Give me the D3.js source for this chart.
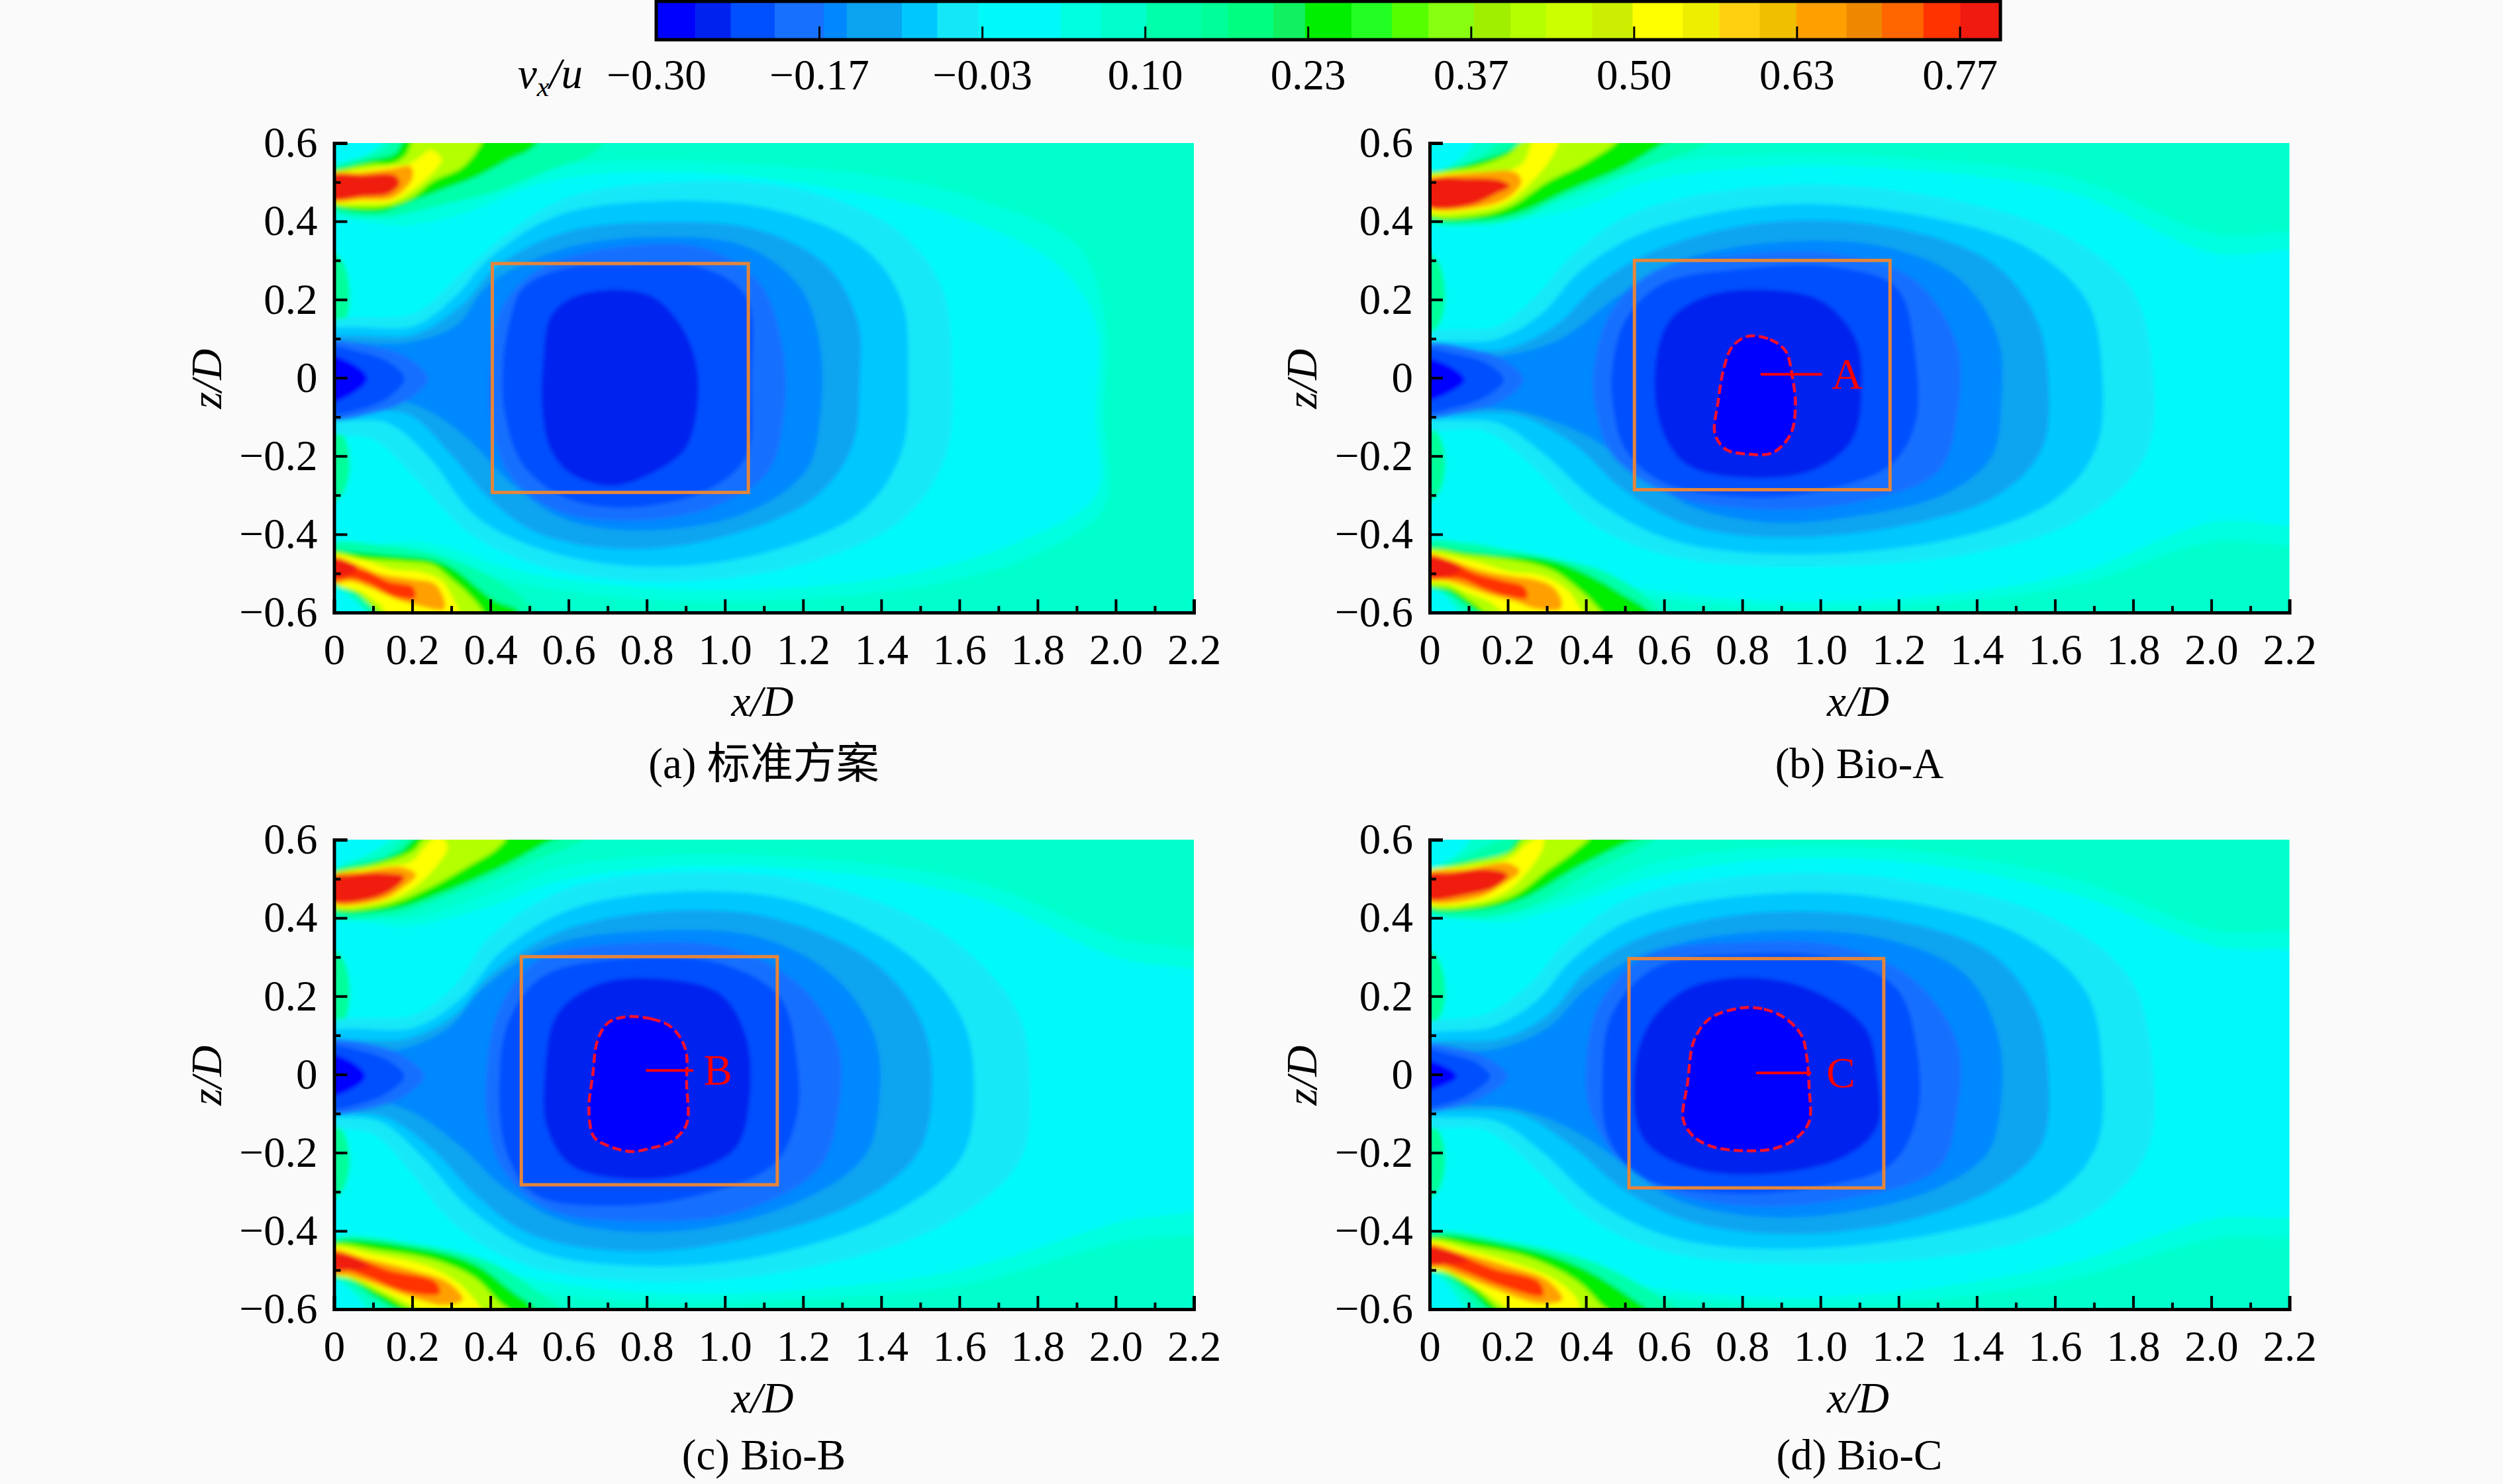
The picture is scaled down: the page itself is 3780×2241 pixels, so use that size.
<!DOCTYPE html>
<html>
<head>
<meta charset="utf-8">
<script src="https://cdn.jsdelivr.net/npm/d3@7"></script>
<style>
  html, body { margin: 0; padding: 0; background: #fafafa; }
  text { font-family: "Liberation Serif", "Noto Sans CJK SC", serif; font-size: 65px; fill: #000; }
</style>
</head>
<body>
<svg id="chart" width="3780" height="2241"></svg>
<script>
// colour bar
var barEdges = [-0.268, -0.239, -0.203, -0.163, -0.144, -0.099, -0.07, -0.036, 0.031, 0.064, 0.101, 0.146, 0.168, 0.205, 0.231, 0.269,
  0.302, 0.332, 0.369, 0.399, 0.428, 0.466, 0.499, 0.54, 0.57, 0.603, 0.633, 0.674, 0.703, 0.737, 0.767];
var barColors = ["#0000ff", "#0022ee", "#0050ff", "#1870ff", "#0088ff", "#0aa4f0", "#00c8ff", "#14e8f8", "#00fafa", "#00ffe0", "#00ffcc", "#00ffaa",
  "#00ff99", "#00ff80", "#10f060", "#00ee00", "#22ff22", "#55ff00", "#88ff10", "#a0ee00", "#b4ff00", "#ccff00", "#ccee00", "#ffff00", "#eeee00",
  "#ffd010", "#f0c000", "#ffa000", "#ee8800", "#ff6600", "#ff3300", "#f01a10"];
var barTicks = [-0.30, -0.1667, -0.0333, 0.10, 0.2333, 0.3667, 0.50, 0.6333, 0.7667];

var xTicks = [0, 0.2, 0.4, 0.6, 0.8, 1.0, 1.2, 1.4, 1.6, 1.8, 2.0, 2.2];
var xMinor = [0.1, 0.3, 0.5, 0.7, 0.9, 1.1, 1.3, 1.5, 1.7, 1.9, 2.1];
var zTicks = [-0.6, -0.4, -0.2, 0, 0.2, 0.4, 0.6];
var zMinor = [-0.5, -0.3, -0.1, 0.1, 0.3, 0.5];

var captions = ["(a) 标准方案", "(b) Bio-A", "(c) Bio-B", "(d) Bio-C"];

// duct box per panel: x0, x1, z0, z1
var boxA = [0.405, 1.06, -0.293, 0.292];
var boxB = [0.524, 1.178, -0.286, 0.30];
var boxC = [0.479, 1.134, -0.282, 0.301];
var boxD = [0.51, 1.162, -0.29, 0.296];

// dashed low velocity outlines
var coreB = [[0.814, 0.106], [0.871, 0.098], [0.911, 0.068], [0.928, 0.003], [0.936, -0.072], [0.924, -0.143], [0.879, -0.191], [0.814, -0.195], [0.758, -0.183], [0.73, -0.143], [0.738, -0.062], [0.753, 0.025], [0.774, 0.079]];
var coreC = [[0.743, 0.147], [0.812, 0.142], [0.864, 0.12], [0.899, 0.065], [0.902, -0.023], [0.902, -0.127], [0.864, -0.171], [0.812, -0.188], [0.76, -0.197], [0.70, -0.182], [0.665, -0.16], [0.652, -0.089], [0.662, -0.001], [0.674, 0.087], [0.70, 0.131]];
var coreD = [[0.798, 0.17], [0.855, 0.167], [0.911, 0.143], [0.952, 0.099], [0.965, 0.044], [0.971, -0.033], [0.971, -0.121], [0.936, -0.165], [0.879, -0.19], [0.806, -0.195], [0.725, -0.185], [0.677, -0.16], [0.649, -0.116], [0.66, -0.022], [0.677, 0.088], [0.717, 0.143]];

// leader: x0, x1, z, then the letter and its x
var leaderB = [0.847, 1.004, 0.009, "A", 1.068];
var leaderC = [0.798, 0.919, 0.01, "B", 0.982];
var leaderD = [0.835, 0.976, 0.004, "C", 1.052];

// filled contours as [level, outline in x/D, z/D], painted in this order
var fieldA = [
  [0.05, [[-0.05, 0.41], [0.2, 0.42], [0.36, 0.47], [0.52, 0.53], [0.74, 0.555], [1.0, 0.55], [1.36, 0.52], [1.6, 0.47], [1.9, 0.34], [1.97, 0.16], [1.97, -0.1], [1.97, -0.33], [1.8, -0.45], [1.55, -0.525], [1.2, -0.565], [0.85, -0.57], [0.5, -0.53], [0.23, -0.46], [-0.05, -0.44]]],
  [0, [[-0.05, 0.38], [0.2, 0.39], [0.36, 0.43], [0.52, 0.495], [0.74, 0.525], [1.0, 0.52], [1.3, 0.48], [1.6, 0.41], [1.85, 0.29], [1.95, 0.14], [1.95, -0.1], [1.95, -0.3], [1.75, -0.42], [1.5, -0.495], [1.2, -0.535], [0.85, -0.54], [0.5, -0.5], [0.23, -0.42], [-0.05, -0.41]]],
  [0.02, [[-0.02, 0.62], [0.13, 0.62], [0.1, 0.58], [0.04, 0.55], [-0.02, 0.53]]],
  [0.02, [[-0.02, -0.53], [0.04, -0.56], [0.09, -0.62], [-0.02, -0.62]]],
  [0.15, [[-0.03, 0.33], [0.02, 0.3], [0.04, 0.2], [0.02, 0.13], [-0.03, 0.11]]],
  [0.15, [[-0.03, -0.11], [0.02, -0.14], [0.04, -0.22], [0.02, -0.3], [-0.03, -0.33]]],
  [-0.05, [[-0.035, 0.128], [0.207, 0.165], [0.311, 0.252], [0.432, 0.36], [0.588, 0.457], [0.864, 0.5], [1.175, 0.484], [1.434, 0.382], [1.555, 0.23], [1.581, 0.014], [1.564, -0.202], [1.452, -0.364], [1.175, -0.483], [0.83, -0.521], [0.536, -0.483], [0.346, -0.397], [0.207, -0.256], [0.104, -0.159], [-0.035, -0.126]]],
  [-0.085, [[-0.035, 0.111], [0.207, 0.133], [0.311, 0.209], [0.398, 0.306], [0.57, 0.414], [0.83, 0.452], [1.123, 0.43], [1.348, 0.338], [1.452, 0.198], [1.469, 0.014], [1.452, -0.191], [1.348, -0.343], [1.089, -0.451], [0.795, -0.483], [0.536, -0.44], [0.363, -0.354], [0.242, -0.202], [0.138, -0.116], [-0.035, -0.094]]],
  [-0.12, [[-0.035, 0.09], [0.207, 0.111], [0.328, 0.187], [0.415, 0.284], [0.588, 0.371], [0.83, 0.398], [1.089, 0.377], [1.262, 0.285], [1.34, 0.144], [1.345, -0.006], [1.325, -0.178], [1.227, -0.308], [1.002, -0.405], [0.744, -0.438], [0.519, -0.396], [0.398, -0.31], [0.294, -0.191], [0.19, -0.094], [-0.035, -0.072]]],
  [-0.15, [[-0.035, 0.074], [0.19, 0.09], [0.311, 0.133], [0.398, 0.24], [0.588, 0.33], [0.83, 0.36], [1.054, 0.335], [1.193, 0.23], [1.244, 0.079], [1.244, -0.094], [1.21, -0.234], [1.054, -0.345], [0.795, -0.39], [0.588, -0.36], [0.45, -0.267], [0.346, -0.159], [0.242, -0.084], [0.138, -0.051], [-0.035, -0.051]]],
  [-0.18, [[0.40, 0.03], [0.43, 0.18], [0.53, 0.28], [0.74, 0.335], [0.95, 0.33], [1.09, 0.24], [1.15, 0.06], [1.15, -0.1], [1.11, -0.24], [0.97, -0.33], [0.74, -0.365], [0.56, -0.335], [0.45, -0.25], [0.40, -0.1]]],
  [-0.22, [[0.449, 0.144], [0.484, 0.23], [0.588, 0.279], [0.744, 0.29], [0.933, 0.284], [1.054, 0.209], [1.068, -0.008], [1.054, -0.202], [0.951, -0.289], [0.744, -0.332], [0.588, -0.305], [0.484, -0.224], [0.437, -0.094], [0.432, 0.036]]],
  [-0.25, [[0.553, 0.155], [0.605, 0.203], [0.709, 0.225], [0.812, 0.209], [0.881, 0.144], [0.925, 0.046], [0.93, -0.072], [0.899, -0.181], [0.812, -0.245], [0.709, -0.276], [0.605, -0.245], [0.553, -0.181], [0.532, -0.072], [0.536, 0.057]]],
  [-0.18, [[-0.035, 0.085], [0.1, 0.08], [0.19, 0.05], [0.24, -0.002], [0.19, -0.055], [0.1, -0.09], [-0.035, -0.1]]],
  [-0.22, [[-0.035, 0.075], [0.07, 0.065], [0.14, 0.04], [0.18, -0.002], [0.14, -0.05], [0.07, -0.08], [-0.035, -0.09]]],
  [-0.29, [[-0.035, 0.055], [0.04, 0.04], [0.085, -0.002], [0.04, -0.045], [-0.035, -0.065]]],
  // top jet
  [0.12, [[-0.01, 0.435], [0.128, 0.41], [0.241, 0.435], [0.411, 0.475], [0.552, 0.531], [0.665, 0.576], [0.69, 0.61], [0.156, 0.61], [0.128, 0.582], [0.055, 0.559], [-0.01, 0.531]]],
  [0.25, [[-0.01, 0.446], [0.043, 0.427], [0.123, 0.424], [0.185, 0.446], [0.275, 0.48], [0.354, 0.509], [0.41, 0.537], [0.45, 0.559], [0.5, 0.582], [0.524, 0.61], [0.185, 0.61], [0.156, 0.573], [0.094, 0.557], [0.041, 0.542], [-0.01, 0.523]]],
  [0.41, [[-0.01, 0.452], [0.072, 0.435], [0.145, 0.441], [0.202, 0.463], [0.253, 0.503], [0.326, 0.537], [0.366, 0.582], [0.377, 0.61], [0.207, 0.61], [0.185, 0.571], [0.151, 0.548], [0.094, 0.545], [0.038, 0.534], [-0.01, 0.517]]],
  [0.52, [[-0.01, 0.451], [0.072, 0.446], [0.145, 0.449], [0.185, 0.469], [0.23, 0.503], [0.264, 0.537], [0.275, 0.559], [0.247, 0.582], [0.213, 0.559], [0.185, 0.545], [0.151, 0.542], [0.094, 0.534], [0.032, 0.528], [-0.01, 0.521]]],
  [0.65, [[-0.01, 0.455], [0.072, 0.455], [0.145, 0.458], [0.179, 0.48], [0.202, 0.514], [0.196, 0.54], [0.145, 0.534], [0.072, 0.525], [-0.01, 0.518]]],
  [0.78, [[-0.01, 0.458], [0.072, 0.463], [0.14, 0.47], [0.168, 0.497], [0.156, 0.517], [0.072, 0.518], [-0.01, 0.515]]],
  // bottom jet
  [0.12, [[-0.01, -0.428], [0.128, -0.428], [0.258, -0.45], [0.366, -0.49], [0.445, -0.535], [0.501, -0.58], [0.524, -0.61], [0.11, -0.61], [0.08, -0.59], [0.043, -0.55], [-0.01, -0.52]]],
  [0.25, [[-0.01, -0.445], [0.043, -0.445], [0.14, -0.453], [0.253, -0.465], [0.309, -0.49], [0.366, -0.535], [0.411, -0.569], [0.467, -0.592], [0.473, -0.61], [0.117, -0.61], [0.089, -0.58], [0.055, -0.552], [0.007, -0.532], [-0.01, -0.525]]],
  [0.41, [[-0.01, -0.45], [0.072, -0.462], [0.185, -0.47], [0.253, -0.479], [0.298, -0.513], [0.343, -0.552], [0.377, -0.592], [0.382, -0.61], [0.134, -0.61], [0.094, -0.58], [0.055, -0.546], [0.007, -0.527]]],
  [0.52, [[-0.01, -0.456], [0.077, -0.467], [0.151, -0.49], [0.219, -0.496], [0.275, -0.518], [0.298, -0.552], [0.32, -0.597], [0.323, -0.61], [0.145, -0.61], [0.117, -0.58], [0.072, -0.549], [0.007, -0.524]]],
  [0.65, [[-0.01, -0.459], [0.055, -0.476], [0.117, -0.501], [0.202, -0.515], [0.258, -0.527], [0.284, -0.575], [0.281, -0.592], [0.207, -0.58], [0.151, -0.563], [0.094, -0.538], [0.043, -0.521], [-0.01, -0.524]]],
  [0.75, [[-0.01, -0.462], [0.043, -0.481], [0.089, -0.496], [0.14, -0.521], [0.202, -0.535], [0.207, -0.563], [0.151, -0.558], [0.094, -0.529], [0.043, -0.513], [-0.01, -0.518]]],
  [0.78, [[-0.01, -0.462], [0.038, -0.47], [0.06, -0.485], [0.043, -0.501], [-0.01, -0.51]]]
];

var fieldB = [
  [0.05, [[-0.05, 0.41], [0.2, 0.42], [0.4, 0.47], [0.55, 0.54], [0.87, 0.57], [1.25, 0.56], [1.65, 0.51], [2.0, 0.37], [2.3, 0.34], [2.3, -0.4], [2.0, -0.42], [1.65, -0.53], [1.25, -0.58], [0.87, -0.59], [0.5, -0.55], [0.25, -0.48], [-0.05, -0.44]]],
  [0, [[-0.05, 0.39], [0.2, 0.4], [0.4, 0.44], [0.55, 0.5], [0.87, 0.54], [1.25, 0.53], [1.65, 0.47], [2.0, 0.32], [2.3, 0.3], [2.3, -0.35], [2.0, -0.37], [1.65, -0.5], [1.25, -0.56], [0.87, -0.57], [0.5, -0.53], [0.25, -0.46], [-0.05, -0.42]]],
  [0.02, [[-0.02, 0.62], [0.12, 0.62], [0.09, 0.57], [0.03, 0.53], [-0.02, 0.51]]],
  [0.02, [[-0.02, -0.53], [0.03, -0.55], [0.08, -0.62], [-0.02, -0.62]]],
  [0.15, [[-0.03, 0.33], [0.02, 0.3], [0.04, 0.2], [0.02, 0.13], [-0.03, 0.1]]],
  [0.15, [[-0.03, -0.11], [0.02, -0.14], [0.04, -0.22], [0.02, -0.3], [-0.03, -0.33]]],
  [-0.05, [[-0.036, 0.1], [0.175, 0.133], [0.272, 0.209], [0.369, 0.317], [0.531, 0.425], [0.871, 0.49], [1.227, 0.474], [1.6, 0.376], [1.794, 0.23], [1.851, 0.014], [1.835, -0.191], [1.697, -0.342], [1.438, -0.439], [0.952, -0.483], [0.596, -0.451], [0.402, -0.365], [0.272, -0.235], [0.143, -0.137], [-0.036, -0.121]]],
  [-0.085, [[-0.036, 0.073], [0.175, 0.1], [0.288, 0.165], [0.385, 0.273], [0.547, 0.371], [0.871, 0.441], [1.195, 0.425], [1.519, 0.338], [1.681, 0.198], [1.721, 0.014], [1.705, -0.181], [1.6, -0.311], [1.354, -0.408], [0.952, -0.451], [0.629, -0.418], [0.434, -0.321], [0.288, -0.191], [0.175, -0.116], [-0.036, -0.089]]],
  [-0.12, [[-0.036, 0.06], [0.191, 0.073], [0.321, 0.133], [0.434, 0.241], [0.58, 0.327], [0.871, 0.398], [1.195, 0.382], [1.438, 0.295], [1.551, 0.155], [1.583, -0.008], [1.567, -0.181], [1.454, -0.3], [1.227, -0.375], [0.903, -0.408], [0.661, -0.376], [0.499, -0.289], [0.369, -0.17], [0.224, -0.095], [-0.036, -0.078]]],
  [-0.15, [[-0.036, 0.05], [0.191, 0.057], [0.336, 0.1], [0.466, 0.197], [0.612, 0.29], [0.871, 0.345], [1.162, 0.335], [1.357, 0.252], [1.454, 0.101], [1.462, -0.072], [1.438, -0.202], [1.324, -0.295], [1.114, -0.35], [0.871, -0.37], [0.661, -0.325], [0.547, -0.245], [0.402, -0.148], [0.224, -0.084], [-0.036, -0.065]]],
  [-0.18, [[0.42, 0.02], [0.46, 0.16], [0.57, 0.27], [0.8, 0.315], [1.05, 0.315], [1.24, 0.25], [1.35, 0.08], [1.35, -0.09], [1.3, -0.24], [1.08, -0.32], [0.83, -0.335], [0.62, -0.3], [0.47, -0.2], [0.425, -0.08]]],
  [-0.22, [[0.466, 0.014], [0.499, 0.144], [0.596, 0.241], [0.806, 0.279], [1.033, 0.284], [1.195, 0.23], [1.243, 0.057], [1.243, -0.116], [1.179, -0.224], [1.0, -0.289], [0.806, -0.305], [0.596, -0.267], [0.499, -0.181], [0.469, -0.072]]],
  [-0.25, [[0.576, 0.014], [0.612, 0.144], [0.709, 0.209], [0.855, 0.225], [1.0, 0.198], [1.09, 0.1], [1.106, -0.029], [1.081, -0.159], [0.984, -0.235], [0.822, -0.256], [0.661, -0.224], [0.596, -0.137]]],
  [-0.18, [[-0.035, 0.08], [0.1, 0.075], [0.19, 0.045], [0.24, -0.005], [0.19, -0.055], [0.1, -0.085], [-0.035, -0.095]]],
  [-0.22, [[-0.035, 0.07], [0.07, 0.06], [0.15, 0.035], [0.19, -0.005], [0.15, -0.045], [0.07, -0.075], [-0.035, -0.085]]],
  [-0.29, [[-0.035, 0.05], [0.04, 0.035], [0.09, -0.005], [0.045, -0.04], [-0.035, -0.06]]],
  [0.12, [[-0.01, 0.405], [0.126, 0.39], [0.24, 0.41], [0.34, 0.46], [0.547, 0.535], [0.72, 0.61], [0.2, 0.61], [0.13, 0.565], [0.03, 0.52], [-0.01, 0.505]]],
  [0.25, [[-0.01, 0.415], [0.126, 0.403], [0.224, 0.42], [0.352, 0.477], [0.5, 0.54], [0.6, 0.6], [0.62, 0.61], [0.25, 0.61], [0.2, 0.58], [0.11, 0.55], [0.03, 0.53], [-0.01, 0.52]]],
  [0.41, [[-0.01, 0.42], [0.126, 0.415], [0.21, 0.44], [0.3, 0.5], [0.4, 0.55], [0.48, 0.61], [0.25, 0.61], [0.2, 0.57], [0.12, 0.54], [0.03, 0.525], [-0.01, 0.515]]],
  [0.52, [[-0.01, 0.43], [0.1, 0.425], [0.2, 0.45], [0.27, 0.51], [0.31, 0.56], [0.33, 0.61], [0.27, 0.61], [0.24, 0.55], [0.2, 0.53], [0.1, 0.525], [0.03, 0.52], [-0.01, 0.51]]],
  [0.65, [[-0.01, 0.437], [0.12, 0.435], [0.2, 0.46], [0.235, 0.5], [0.22, 0.525], [0.12, 0.525], [0.03, 0.515], [-0.01, 0.505]]],
  [0.78, [[-0.01, 0.44], [0.1, 0.44], [0.17, 0.47], [0.205, 0.49], [0.18, 0.505], [0.1, 0.51], [-0.01, 0.503]]],
  // bottom jet, from a close crop
  [0.12, [[-0.01, -0.422], [0.096, -0.422], [0.198, -0.439], [0.322, -0.462], [0.435, -0.49], [0.52, -0.535], [0.576, -0.58], [0.593, -0.61], [0.119, -0.61], [0.079, -0.58], [0.034, -0.546], [-0.01, -0.532]]],
  [0.25, [[-0.01, -0.44], [0.096, -0.445], [0.17, -0.453], [0.266, -0.459], [0.333, -0.473], [0.39, -0.496], [0.435, -0.518], [0.492, -0.552], [0.548, -0.586], [0.57, -0.61], [0.147, -0.61], [0.096, -0.58], [0.045, -0.546], [-0.01, -0.53]]],
  [0.41, [[-0.01, -0.444], [0.096, -0.453], [0.181, -0.462], [0.266, -0.476], [0.322, -0.496], [0.367, -0.529], [0.418, -0.575], [0.441, -0.61], [0.164, -0.61], [0.113, -0.577], [0.056, -0.54], [-0.01, -0.524]]],
  [0.52, [[-0.01, -0.448], [0.051, -0.456], [0.119, -0.47], [0.209, -0.496], [0.266, -0.501], [0.311, -0.515], [0.356, -0.546], [0.379, -0.58], [0.395, -0.61], [0.209, -0.61], [0.153, -0.572], [0.096, -0.549], [0.04, -0.524], [-0.01, -0.518]]],
  [0.65, [[-0.01, -0.452], [0.051, -0.465], [0.124, -0.49], [0.209, -0.507], [0.266, -0.515], [0.316, -0.535], [0.339, -0.575], [0.333, -0.592], [0.266, -0.589], [0.22, -0.572], [0.153, -0.555], [0.096, -0.535], [0.04, -0.518], [-0.01, -0.512]]],
  [0.75, [[-0.01, -0.456], [0.056, -0.47], [0.113, -0.498], [0.186, -0.518], [0.243, -0.535], [0.249, -0.563], [0.198, -0.558], [0.141, -0.541], [0.079, -0.515], [-0.01, -0.51]]],
  [0.78, [[-0.01, -0.459], [0.051, -0.467], [0.079, -0.49], [0.056, -0.504], [-0.01, -0.507]]]
];

var fieldC = [
  [0.05, [[-0.05, 0.39], [0.2, 0.4], [0.42, 0.47], [0.58, 0.53], [0.85, 0.56], [1.25, 0.55], [1.65, 0.49], [2.0, 0.35], [2.3, 0.27], [2.3, -0.36], [2.0, -0.43], [1.6, -0.54], [1.2, -0.575], [0.85, -0.585], [0.5, -0.55], [0.25, -0.47], [-0.05, -0.43]]],
  [0, [[-0.05, 0.37], [0.2, 0.38], [0.4, 0.43], [0.56, 0.49], [0.85, 0.53], [1.25, 0.52], [1.65, 0.45], [2.0, 0.3], [2.3, 0.22], [2.3, -0.3], [2.0, -0.38], [1.6, -0.5], [1.2, -0.55], [0.85, -0.56], [0.5, -0.52], [0.25, -0.44], [-0.05, -0.41]]],
  [0.02, [[-0.02, 0.62], [0.16, 0.62], [0.1, 0.57], [0.03, 0.54], [-0.02, 0.52]]],
  [0.02, [[-0.02, -0.52], [0.03, -0.54], [0.09, -0.62], [-0.02, -0.62]]],
  [0.15, [[-0.03, 0.33], [0.02, 0.3], [0.04, 0.2], [0.02, 0.13], [-0.03, 0.11]]],
  [0.15, [[-0.03, -0.11], [0.02, -0.14], [0.04, -0.22], [0.02, -0.3], [-0.03, -0.33]]],
  [-0.05, [[-0.035, 0.12], [0.207, 0.153], [0.311, 0.23], [0.398, 0.351], [0.588, 0.471], [0.864, 0.515], [1.21, 0.493], [1.556, 0.362], [1.746, 0.164], [1.78, -0.023], [1.754, -0.221], [1.556, -0.386], [1.175, -0.501], [0.795, -0.529], [0.484, -0.485], [0.311, -0.386], [0.19, -0.243], [0.104, -0.155], [-0.035, -0.116]]],
  [-0.085, [[-0.035, 0.098], [0.207, 0.12], [0.328, 0.197], [0.432, 0.318], [0.605, 0.422], [0.864, 0.466], [1.175, 0.444], [1.469, 0.307], [1.607, 0.142], [1.638, -0.023], [1.607, -0.21], [1.434, -0.353], [1.106, -0.463], [0.795, -0.49], [0.519, -0.452], [0.346, -0.342], [0.225, -0.21], [0.121, -0.122], [-0.035, -0.089]]],
  [-0.12, [[-0.035, 0.07], [0.19, 0.092], [0.311, 0.153], [0.398, 0.252], [0.57, 0.362], [0.83, 0.416], [1.123, 0.4], [1.383, 0.285], [1.504, 0.131], [1.53, -0.034], [1.495, -0.199], [1.331, -0.331], [1.002, -0.43], [0.744, -0.452], [0.501, -0.408], [0.363, -0.309], [0.259, -0.199], [0.138, -0.111], [-0.035, -0.078]]],
  [-0.15, [[-0.035, 0.054], [0.173, 0.065], [0.294, 0.12], [0.38, 0.219], [0.553, 0.329], [0.812, 0.367], [1.089, 0.35], [1.279, 0.251], [1.383, 0.098], [1.395, -0.067], [1.357, -0.21], [1.175, -0.331], [0.864, -0.402], [0.588, -0.375], [0.432, -0.287], [0.328, -0.188], [0.207, -0.1], [0.104, -0.067], [-0.035, -0.056]]],
  [-0.18, [[0.39, 0], [0.42, 0.16], [0.52, 0.29], [0.76, 0.335], [1.02, 0.32], [1.2, 0.22], [1.29, 0.07], [1.29, -0.09], [1.24, -0.24], [1.04, -0.35], [0.78, -0.375], [0.55, -0.345], [0.43, -0.24], [0.39, -0.1]]],
  [-0.22, [[0.423, -0.001], [0.449, 0.142], [0.536, 0.252], [0.743, 0.296], [0.985, 0.285], [1.141, 0.197], [1.184, 0.043], [1.184, -0.111], [1.123, -0.232], [0.933, -0.309], [0.726, -0.336], [0.518, -0.309], [0.441, -0.199]]],
  [-0.25, [[0.539, 0], [0.57, 0.153], [0.674, 0.23], [0.812, 0.246], [0.985, 0.208], [1.054, 0.098], [1.063, -0.067], [1.028, -0.188], [0.899, -0.254], [0.743, -0.267], [0.605, -0.232], [0.544, -0.133]]],
  [-0.18, [[-0.035, 0.08], [0.1, 0.075], [0.18, 0.045], [0.23, -0.005], [0.18, -0.055], [0.1, -0.085], [-0.035, -0.095]]],
  [-0.22, [[-0.035, 0.07], [0.07, 0.06], [0.14, 0.035], [0.18, -0.005], [0.14, -0.045], [0.07, -0.075], [-0.035, -0.085]]],
  [-0.29, [[-0.035, 0.05], [0.04, 0.035], [0.08, -0.005], [0.04, -0.04], [-0.035, -0.055]]],
  [0.12, [[-0.01, 0.41], [0.14, 0.405], [0.28, 0.45], [0.5, 0.54], [0.65, 0.61], [0.2, 0.61], [0.13, 0.56], [0.05, 0.54], [-0.01, 0.515]]],
  [0.25, [[-0.01, 0.425], [0.14, 0.42], [0.28, 0.465], [0.43, 0.53], [0.54, 0.59], [0.58, 0.61], [0.22, 0.61], [0.17, 0.57], [0.09, 0.54], [0.02, 0.525], [-0.01, 0.51]]],
  [0.41, [[-0.01, 0.43], [0.12, 0.43], [0.23, 0.47], [0.34, 0.53], [0.42, 0.58], [0.44, 0.61], [0.24, 0.61], [0.2, 0.57], [0.1, 0.535], [0.02, 0.52], [-0.01, 0.51]]],
  [0.52, [[-0.01, 0.435], [0.12, 0.44], [0.2, 0.475], [0.26, 0.53], [0.29, 0.58], [0.27, 0.61], [0.23, 0.58], [0.2, 0.545], [0.12, 0.53], [0.02, 0.515], [-0.01, 0.505]]],
  [0.65, [[-0.01, 0.44], [0.12, 0.445], [0.18, 0.48], [0.21, 0.51], [0.17, 0.53], [0.08, 0.52], [-0.01, 0.505]]],
  [0.78, [[-0.01, 0.445], [0.1, 0.45], [0.16, 0.48], [0.18, 0.505], [0.12, 0.515], [0.04, 0.51], [-0.01, 0.503]]],
  [0.12, [[-0.01, -0.425], [0.22, -0.435], [0.4, -0.48], [0.5, -0.54], [0.58, -0.61], [0.16, -0.61], [0.09, -0.57], [0.03, -0.53], [-0.01, -0.515]]],
  [0.25, [[-0.01, -0.435], [0.22, -0.445], [0.36, -0.485], [0.45, -0.55], [0.52, -0.61], [0.19, -0.61], [0.11, -0.57], [0.04, -0.525], [-0.01, -0.51]]],
  [0.41, [[-0.01, -0.44], [0.12, -0.45], [0.26, -0.475], [0.36, -0.52], [0.42, -0.58], [0.45, -0.61], [0.22, -0.61], [0.13, -0.565], [0.05, -0.525], [-0.01, -0.505]]],
  [0.52, [[-0.01, -0.445], [0.1, -0.46], [0.24, -0.49], [0.32, -0.535], [0.37, -0.59], [0.38, -0.61], [0.25, -0.61], [0.14, -0.56], [0.05, -0.52], [-0.01, -0.505]]],
  [0.65, [[-0.01, -0.45], [0.08, -0.47], [0.2, -0.5], [0.29, -0.53], [0.33, -0.575], [0.28, -0.59], [0.2, -0.57], [0.1, -0.535], [0.04, -0.515], [-0.01, -0.505]]],
  [0.75, [[-0.01, -0.455], [0.06, -0.47], [0.14, -0.5], [0.26, -0.53], [0.27, -0.56], [0.18, -0.555], [0.09, -0.52], [0.03, -0.5], [-0.01, -0.5]]],
  [0.78, [[-0.01, -0.458], [0.05, -0.465], [0.09, -0.49], [0.05, -0.5], [-0.01, -0.497]]]
];

var fieldD = [
  [0.05, [[-0.05, 0.4], [0.2, 0.41], [0.4, 0.47], [0.57, 0.54], [0.87, 0.58], [1.25, 0.57], [1.65, 0.5], [2.0, 0.37], [2.3, 0.33], [2.3, -0.38], [2.0, -0.42], [1.65, -0.52], [1.25, -0.58], [0.87, -0.59], [0.5, -0.55], [0.25, -0.47], [-0.05, -0.42]]],
  [0, [[-0.05, 0.38], [0.2, 0.39], [0.38, 0.44], [0.55, 0.5], [0.87, 0.55], [1.25, 0.54], [1.65, 0.46], [2.0, 0.33], [2.3, 0.28], [2.3, -0.33], [2.0, -0.37], [1.65, -0.48], [1.25, -0.55], [0.87, -0.57], [0.5, -0.53], [0.25, -0.44], [-0.05, -0.39]]],
  [0.02, [[-0.02, 0.62], [0.11, 0.62], [0.08, 0.57], [0.03, 0.54], [-0.02, 0.52]]],
  [0.02, [[-0.02, -0.5], [0.03, -0.52], [0.09, -0.62], [-0.02, -0.62]]],
  [0.15, [[-0.03, 0.33], [0.02, 0.3], [0.04, 0.2], [0.02, 0.14], [-0.03, 0.12]]],
  [0.15, [[-0.03, -0.12], [0.02, -0.14], [0.04, -0.22], [0.02, -0.3], [-0.03, -0.33]]],
  [-0.05, [[-0.036, 0.115], [0.143, 0.154], [0.256, 0.231], [0.353, 0.341], [0.515, 0.451], [0.871, 0.512], [1.227, 0.495], [1.6, 0.396], [1.794, 0.242], [1.851, 0.011], [1.835, -0.198], [1.697, -0.353], [1.438, -0.447], [0.952, -0.485], [0.596, -0.452], [0.402, -0.364], [0.272, -0.242], [0.143, -0.143], [-0.036, -0.121]]],
  [-0.085, [[-0.036, 0.088], [0.159, 0.121], [0.272, 0.187], [0.369, 0.297], [0.531, 0.402], [0.871, 0.462], [1.195, 0.446], [1.519, 0.352], [1.681, 0.209], [1.721, 0.011], [1.705, -0.187], [1.584, -0.319], [1.324, -0.402], [0.936, -0.446], [0.628, -0.419], [0.434, -0.33], [0.288, -0.198], [0.175, -0.121], [-0.036, -0.088]]],
  [-0.12, [[-0.036, 0.066], [0.191, 0.093], [0.304, 0.154], [0.401, 0.264], [0.547, 0.352], [0.839, 0.413], [1.179, 0.396], [1.438, 0.308], [1.551, 0.165], [1.583, 0], [1.567, -0.176], [1.454, -0.286], [1.195, -0.38], [0.887, -0.408], [0.661, -0.375], [0.499, -0.297], [0.369, -0.187], [0.224, -0.099], [-0.036, -0.072]]],
  [-0.15, [[-0.036, 0.044], [0.175, 0.066], [0.304, 0.121], [0.401, 0.22], [0.547, 0.308], [0.822, 0.363], [1.162, 0.347], [1.373, 0.253], [1.454, 0.099], [1.462, -0.066], [1.429, -0.198], [1.308, -0.286], [1.098, -0.347], [0.855, -0.364], [0.628, -0.319], [0.499, -0.231], [0.369, -0.143], [0.224, -0.088], [-0.036, -0.055]]],
  [-0.18, [[0.40, 0.01], [0.43, 0.17], [0.55, 0.3], [0.81, 0.338], [1.06, 0.325], [1.24, 0.24], [1.35, 0.08], [1.35, -0.09], [1.3, -0.24], [1.05, -0.32], [0.8, -0.335], [0.59, -0.29], [0.47, -0.2], [0.41, -0.09]]],
  [-0.22, [[0.442, 0], [0.466, 0.154], [0.58, 0.275], [0.806, 0.308], [1.033, 0.297], [1.195, 0.22], [1.247, 0.066], [1.247, -0.11], [1.179, -0.231], [0.968, -0.292], [0.742, -0.303], [0.547, -0.265], [0.458, -0.165]]],
  [-0.25, [[0.523, 0], [0.563, 0.132], [0.661, 0.22], [0.806, 0.248], [0.968, 0.22], [1.114, 0.121], [1.146, 0], [1.146, -0.132], [1.065, -0.209], [0.871, -0.254], [0.661, -0.237], [0.547, -0.165]]],
  [-0.18, [[-0.035, 0.07], [0.08, 0.065], [0.15, 0.04], [0.2, -0.005], [0.15, -0.05], [0.08, -0.08], [-0.035, -0.09]]],
  [-0.22, [[-0.035, 0.06], [0.06, 0.05], [0.12, 0.03], [0.155, -0.005], [0.12, -0.04], [0.06, -0.07], [-0.035, -0.08]]],
  [-0.29, [[-0.035, 0.035], [0.03, 0.025], [0.07, -0.005], [0.03, -0.03], [-0.035, -0.045]]],
  [0.12, [[-0.01, 0.42], [0.12, 0.4], [0.26, 0.43], [0.4, 0.51], [0.58, 0.61], [0.22, 0.61], [0.1, 0.56], [0.03, 0.53], [-0.01, 0.52]]],
  [0.25, [[-0.01, 0.43], [0.12, 0.42], [0.24, 0.45], [0.38, 0.53], [0.5, 0.59], [0.55, 0.61], [0.24, 0.61], [0.2, 0.57], [0.1, 0.545], [0.03, 0.53], [-0.01, 0.52]]],
  [0.41, [[-0.01, 0.435], [0.12, 0.43], [0.22, 0.46], [0.3, 0.52], [0.37, 0.57], [0.41, 0.61], [0.25, 0.61], [0.21, 0.57], [0.1, 0.54], [0.03, 0.525], [-0.01, 0.515]]],
  [0.52, [[-0.01, 0.44], [0.12, 0.44], [0.2, 0.47], [0.26, 0.53], [0.29, 0.58], [0.29, 0.61], [0.25, 0.59], [0.2, 0.55], [0.1, 0.53], [-0.01, 0.515]]],
  [0.65, [[-0.01, 0.445], [0.12, 0.45], [0.18, 0.48], [0.23, 0.52], [0.2, 0.54], [0.1, 0.525], [-0.01, 0.51]]],
  [0.78, [[-0.01, 0.45], [0.1, 0.46], [0.17, 0.48], [0.2, 0.51], [0.14, 0.525], [0.05, 0.515], [-0.01, 0.51]]],
  [0.12, [[-0.01, -0.41], [0.22, -0.43], [0.42, -0.48], [0.56, -0.55], [0.64, -0.61], [0.14, -0.61], [0.09, -0.56], [0.03, -0.51], [-0.01, -0.5]]],
  [0.25, [[-0.01, -0.42], [0.22, -0.44], [0.38, -0.49], [0.5, -0.56], [0.56, -0.61], [0.17, -0.61], [0.11, -0.56], [0.04, -0.51], [-0.01, -0.495]]],
  [0.41, [[-0.01, -0.425], [0.12, -0.44], [0.26, -0.47], [0.38, -0.53], [0.44, -0.59], [0.46, -0.61], [0.2, -0.61], [0.12, -0.55], [0.05, -0.51], [-0.01, -0.49]]],
  [0.52, [[-0.01, -0.43], [0.1, -0.45], [0.24, -0.49], [0.33, -0.53], [0.38, -0.58], [0.38, -0.61], [0.23, -0.61], [0.13, -0.55], [0.05, -0.505], [-0.01, -0.49]]],
  [0.65, [[-0.01, -0.435], [0.08, -0.455], [0.2, -0.49], [0.3, -0.525], [0.34, -0.575], [0.28, -0.585], [0.17, -0.55], [0.08, -0.515], [0.03, -0.495], [-0.01, -0.49]]],
  [0.75, [[-0.01, -0.44], [0.06, -0.455], [0.16, -0.495], [0.28, -0.53], [0.29, -0.565], [0.18, -0.54], [0.09, -0.505], [0.03, -0.485], [-0.01, -0.485]]],
  [0.78, [[-0.01, -0.443], [0.05, -0.45], [0.1, -0.475], [0.05, -0.485], [-0.01, -0.483]]]
];

var svg = d3.select("#chart");
var color = d3.scaleThreshold().domain(barEdges).range(barColors);
var fmtX = function (d) { return d === 0 ? "0" : d3.format(".1f")(d); };

// colour bar
var barX = d3.scaleLinear().domain([-0.30, 0.80]).range([991, 3021]);
var bar = svg.append("g");
var barStops = [-0.30].concat(barEdges);
bar.selectAll("rect").data(barColors).enter().append("rect")
  .attr("x", function (d, i) { return barX(barStops[i]); })
  .attr("y", 2)
  .attr("width", function (d, i) { return barX(i < barEdges.length ? barEdges[i] : 0.80) - barX(barStops[i]) + 0.5; })
  .attr("height", 58)
  .attr("fill", function (d) { return d; });
bar.append("rect").attr("x", 991).attr("y", 2).attr("width", 2030).attr("height", 58)
  .attr("fill", "none").attr("stroke", "#000").attr("stroke-width", 5);
var barAxis = bar.append("g").attr("transform", "translate(0,60)")
  .call(d3.axisBottom(barX).tickValues(barTicks).tickFormat(d3.format(".2f")).tickSize(-20).tickPadding(29));
barAxis.select(".domain").remove();
barAxis.selectAll("line").attr("stroke", "#000").attr("stroke-width", 3);
barAxis.selectAll("text").attr("font-family", null).attr("font-size", null);
var barName = svg.append("text").attr("x", 880).attr("y", 133).attr("text-anchor", "end").attr("font-style", "italic");
barName.append("tspan").text("v");
barName.append("tspan").text("x").attr("dy", 12).style("font-size", "42px");
barName.append("tspan").text("/u").attr("dy", -12);

var defs = svg.append("defs");
defs.append("filter").attr("id", "soft").append("feGaussianBlur").attr("stdDeviation", 3);

function drawPanel(i, left, top, field, box, core, leader) {
  var x = d3.scaleLinear().domain([0, 2.2]).range([0, 1298.5]);
  var z = d3.scaleLinear().domain([-0.6, 0.6]).range([709, 0]);
  var outline = d3.line().x(function (d) { return x(d[0]); }).y(function (d) { return z(d[1]); })
    .curve(d3.curveCatmullRomClosed.alpha(0.5));

  var g = svg.append("g").attr("transform", "translate(" + left + "," + top + ")");
  defs.append("clipPath").attr("id", "clip" + i).append("rect")
    .attr("width", 1298.5).attr("height", 709);

  var plot = g.append("g").attr("clip-path", "url(#clip" + i + ")");
  var soft = plot.append("g").attr("filter", "url(#soft)");
  soft.append("rect")
    .attr("x", x(-0.05)).attr("y", z(0.65))
    .attr("width", x(2.25) - x(-0.05)).attr("height", z(-0.65) - z(0.65))
    .attr("fill", color(0.08));
  soft.selectAll("path").data(field).enter().append("path")
    .attr("d", function (d) { return outline(d[1]); })
    .attr("fill", function (d) { return color(d[0]); });

  if (core) {
    plot.append("path").attr("d", outline(core))
      .attr("fill", color(-0.29)).attr("stroke", "#f01030").attr("stroke-width", 4.5)
      .attr("stroke-dasharray", "14 6");
    plot.append("line")
      .attr("x1", x(leader[0])).attr("x2", x(leader[1]))
      .attr("y1", z(leader[2])).attr("y2", z(leader[2]))
      .attr("stroke", "#f00").attr("stroke-width", 4);
    g.append("text").attr("x", x(leader[4])).attr("y", z(leader[2])).attr("dy", "0.33em")
      .attr("text-anchor", "middle").style("fill", "#f00").text(leader[3]);
  }

  plot.append("rect")
    .attr("x", x(box[0])).attr("y", z(box[3]))
    .attr("width", x(box[1]) - x(box[0])).attr("height", z(box[2]) - z(box[3]))
    .attr("fill", "none").attr("stroke", "#e4853c").attr("stroke-width", 5);

  // axes, ticks point into the plot
  var ax = g.append("g").attr("transform", "translate(0,709)")
    .call(d3.axisBottom(x).tickValues(xTicks).tickFormat(fmtX).tickSize(-20).tickPadding(32));
  var ay = g.append("g")
    .call(d3.axisLeft(z).tickValues(zTicks).tickFormat(fmtX).tickSize(-20).tickPadding(25));
  var axMinor = g.append("g").attr("transform", "translate(0,709)")
    .call(d3.axisBottom(x).tickValues(xMinor).tickFormat("").tickSize(-10));
  var ayMinor = g.append("g")
    .call(d3.axisLeft(z).tickValues(zMinor).tickFormat("").tickSize(-10));
  axMinor.select(".domain").remove();
  ayMinor.select(".domain").remove();
  [ax, ay, axMinor, ayMinor].forEach(function (a) {
    a.selectAll("line").attr("stroke", "#000").attr("stroke-width", 4);
    a.selectAll(".domain").attr("stroke", "#000").attr("stroke-width", 5);
    a.selectAll("text").attr("font-family", null).attr("font-size", null);
  });

  g.append("text").attr("x", 647).attr("y", 709 + 156).attr("text-anchor", "middle")
    .attr("font-style", "italic").text("x/D");
  g.append("text").attr("transform", "translate(-171,356) rotate(-90)").attr("text-anchor", "middle")
    .attr("font-style", "italic").text("z/D");
  g.append("text").attr("x", 649).attr("y", 709 + (i < 2 ? 250 : 242)).attr("text-anchor", "middle").text(captions[i]);
}

drawPanel(0, 504.5, 216, fieldA, boxA, null, null);
drawPanel(1, 2159, 216, fieldB, boxB, coreB, leaderB);
drawPanel(2, 504.5, 1268, fieldC, boxC, coreC, leaderC);
drawPanel(3, 2159, 1268, fieldD, boxD, coreD, leaderD);
</script>
</body>
</html>
